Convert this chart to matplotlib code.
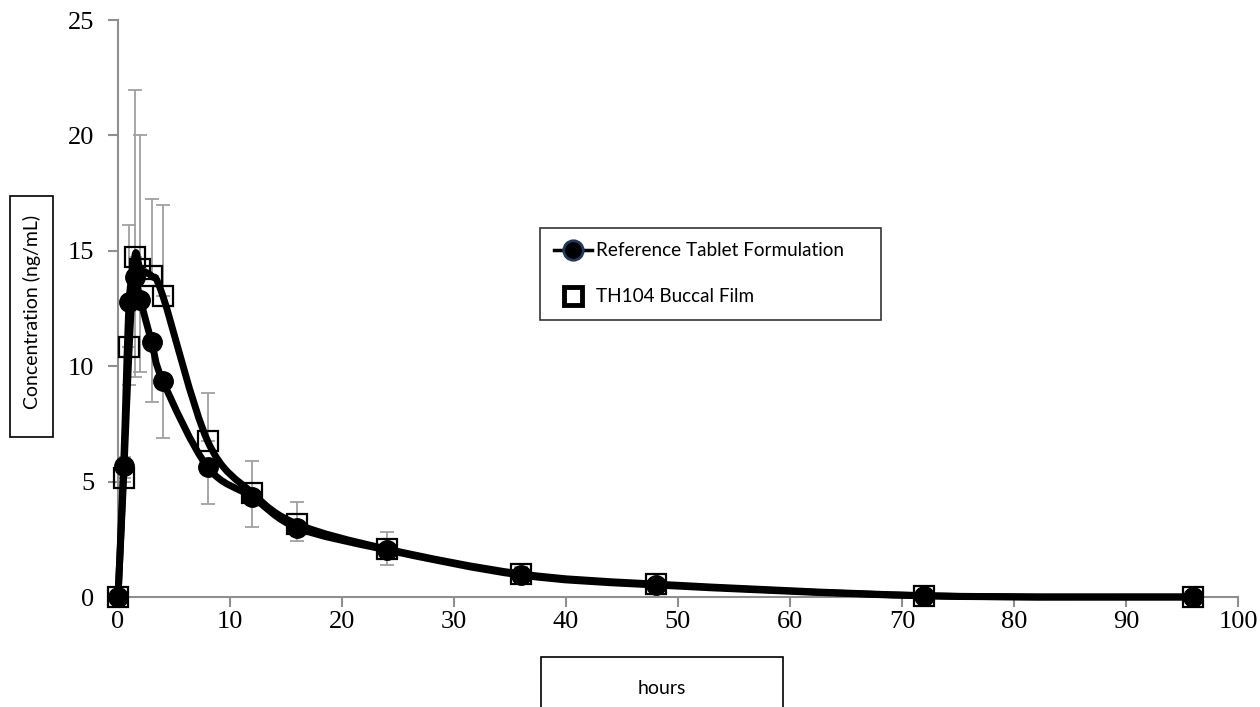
import numpy as np
import matplotlib
matplotlib.use("Agg")
import matplotlib.pyplot as plt
from matplotlib.path import Path
from matplotlib.patches import PathPatch, Rectangle
from matplotlib.lines import Line2D

# Sampling times (hours)
hours = [0, 0.5, 1, 1.5, 2, 3, 4, 8, 12, 16, 24, 36, 48, 72, 96]

# Mean plasma concentration (ng/mL)
reference_tablet = [0, 5.67, 12.8, 13.85, 12.87, 11.05, 9.36, 5.63, 4.33, 3.0, 2.04, 0.95, 0.52, 0.05, 0.0]
th104_film = [0, 5.16, 10.83, 14.75, 14.2, 13.9, 13.05, 6.76, 4.5, 3.16, 2.08, 1.0, 0.56, 0.06, 0.0]

# Standard deviations (reference shown below the mean, film above)
reference_sd = [0, 0.7, 3.6, 4.3, 3.1, 2.6, 2.45, 1.6, 1.28, 0.57, 0.64, 0.3, 0.2, 0.1, 0]
th104_sd = [0, 0.9, 5.3, 7.2, 5.8, 3.35, 3.95, 2.1, 1.4, 0.97, 0.72, 0.3, 0.2, 0.1, 0]

x_ticks = list(range(0, 101, 10))
y_ticks = list(range(0, 26, 5))


def smooth_path(x, y):
    """Cubic Bezier path through every point (Catmull-Rom style tangents)."""
    pts = np.column_stack([x, y]).astype(float)
    n = len(pts)
    verts = [pts[0]]
    codes = [Path.MOVETO]
    for i in range(n - 1):
        p0 = pts[i - 1] if i > 0 else pts[i]
        p1 = pts[i]
        p2 = pts[i + 1]
        p3 = pts[i + 2] if i + 2 < n else pts[i + 1]
        c1 = p1 + (p2 - p0) / 6.0
        c2 = p2 - (p3 - p1) / 6.0
        verts += [c1, c2, p2]
        codes += [Path.CURVE4] * 3
    return Path(verts, codes)


fig = plt.figure(figsize=(12.6, 7.07), dpi=100)
ax = fig.add_axes([118 / 1260, 110 / 707, 1120 / 1260, 577 / 707])

grey = "#8f8f8f"
bar_grey = "#a0a0a0"

# error bars
ax.errorbar(hours, th104_film, yerr=[np.zeros(len(hours)), th104_sd], fmt="none",
            ecolor=bar_grey, elinewidth=1.3, capsize=5, capthick=1.3, zorder=1)
ax.errorbar(hours, reference_tablet, yerr=[reference_sd, np.zeros(len(hours))], fmt="none",
            ecolor=bar_grey, elinewidth=1.3, capsize=5, capthick=1.3, zorder=1)

# film markers (open squares)
ax.plot(hours, th104_film, linestyle="none", marker="s", markersize=15,
        markerfacecolor="none", markeredgecolor="black", markeredgewidth=1.6,
        zorder=3, clip_on=False)

# smoothed curves
for series in (th104_film, reference_tablet):
    ax.add_patch(PathPatch(smooth_path(hours, series), fill=False, edgecolor="black",
                           linewidth=5, capstyle="round", joinstyle="round",
                           zorder=4, clip_on=False))

# reference markers (filled circles)
ax.plot(hours, reference_tablet, linestyle="none", marker="o", markersize=14,
        markerfacecolor="black", markeredgecolor="black", zorder=5, clip_on=False)

ax.set_xlim(0, 100)
ax.set_ylim(0, 25)
ax.set_xticks(x_ticks)
ax.set_yticks(y_ticks)
for side in ("top", "right"):
    ax.spines[side].set_visible(False)
for side in ("left", "bottom"):
    ax.spines[side].set_color(grey)
    ax.spines[side].set_linewidth(1.5)
ax.tick_params(direction="out", length=7, width=1.5, color=grey, labelsize=19)
ax.tick_params(axis="y", pad=10)
ax.tick_params(axis="x", pad=3)
for lab in ax.get_xticklabels() + ax.get_yticklabels():
    lab.set_fontfamily("Liberation Serif")
ax.patch.set_alpha(0)

# legend
handles = [
    Line2D([], [], color="black", linewidth=2.5, marker="o", markersize=14,
           markerfacecolor="black", markeredgecolor="#1f3a5c", markeredgewidth=2),
    Line2D([], [], linestyle="none", marker="s", markersize=13,
           markerfacecolor="white", markeredgecolor="black", markeredgewidth=3.5),
]
leg = fig.legend(handles, ["Reference Tablet Formulation", "TH104 Buccal Film"],
                 loc="upper left", mode="expand",
                 bbox_to_anchor=(540 / 1260, 1 - 323 / 707, 341 / 1260, 95 / 707),
                 frameon=True, fancybox=False, edgecolor="black", borderpad=0.75,
                 handlelength=2.0, handletextpad=0.2, labelspacing=1.55,
                 prop={"family": "Lato", "size": 13.6}, borderaxespad=0)
leg.get_frame().set_linewidth(1.2)

# axis title boxes
fig.patches.append(Rectangle((10 / 1260, (707 - 437) / 707), 43 / 1260, 241 / 707,
                             transform=fig.transFigure, fill=False, edgecolor="black",
                             linewidth=1.2))
fig.text(31.5 / 1260, (707 - 312) / 707, "Concentration (ng/mL)", rotation=90,
         ha="center", va="center", family="Lato", fontsize=14)

fig.patches.append(Rectangle((541 / 1260, -10 / 707), 242 / 1260, 60 / 707,
                             transform=fig.transFigure, fill=False, edgecolor="black",
                             linewidth=1.2))
fig.text(662 / 1260, (707 - 689) / 707, "hours", ha="center", va="center",
         family="Lato", fontsize=14)

fig.savefig("out.png", dpi=100, facecolor="white")
